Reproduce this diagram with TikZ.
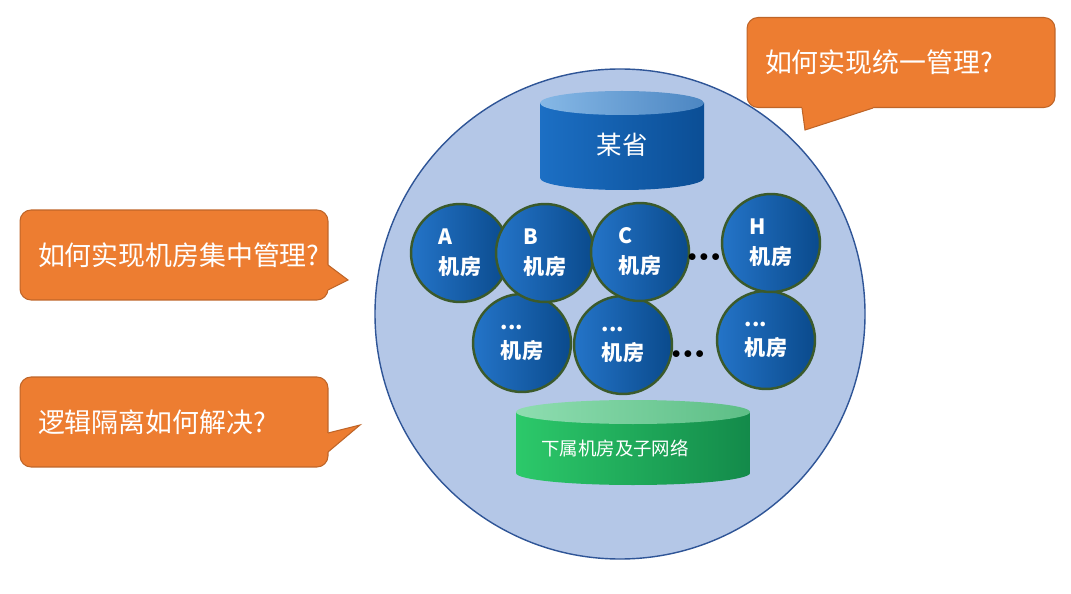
\documentclass[tikz,border=0pt]{standalone}
\usepackage{fontspec}
\newfontfamily\cjk{Noto Sans CJK SC}
\usetikzlibrary{shadings}
\definecolor{bigfill}{HTML}{B4C7E7}
\definecolor{bigline}{HTML}{2F5597}
\definecolor{roomL}{HTML}{2474C8}
\definecolor{roomR}{HTML}{0A4A8C}
\definecolor{roomline}{HTML}{3B5A2B}
\definecolor{provL}{HTML}{1C6FC4}
\definecolor{provR}{HTML}{0B4E95}
\definecolor{provtopL}{HTML}{86B8E6}
\definecolor{provtopR}{HTML}{4C86C2}
\definecolor{subL}{HTML}{2CC96A}
\definecolor{subR}{HTML}{138A4A}
\definecolor{subtopL}{HTML}{8EDDB0}
\definecolor{subtopR}{HTML}{5DBE86}
\definecolor{askfill}{HTML}{ED7D31}
\definecolor{askline}{HTML}{BF6528}

\begin{document}
\begin{tikzpicture}[x=0.02cm,y=0.02cm,
  room/.style={circle,draw=roomline,line width=1.4pt,left color=roomL,right color=roomR,
    minimum size=1.96cm,inner sep=0pt,text=white,align=left,
    font=\cjk\bfseries\fontsize{12}{17}\selectfont},
  askbox/.style={rectangle,rounded corners=0.22cm,fill=askfill,draw=askline,line width=0.6pt,
    minimum height=1.8cm,inner xsep=0.36cm,text width=5.44cm,align=left,text=white,
    font=\cjk\fontsize{15.3}{18}\selectfont},
  tail/.style={draw=askline,line width=0.6pt},
  dotrow/.style={inner sep=0pt,font=\fontsize{10}{10}\selectfont}]
\useasboundingbox (0,0) rectangle (1071,-594);
\fill[white] (0,0) rectangle (1071,-594);

% the big circle
\draw[bigline,fill=bigfill,line width=0.8pt] (620,-314) circle (245);

% province store
\shade[left color=provL,right color=provR] (540,-103) -- (540,-178) arc (180:360:82 and 12) -- (704,-103) -- cycle;
\shade[left color=provtopL,right color=provtopR] (622,-103) ellipse (82 and 12);
\node[text=white,font=\cjk\fontsize{14.5}{17}\selectfont] (prov) at (622,-145) {某省};

% machine rooms, second row first
\node[room] (r1) at (522,-343) {...\\机房};
\node[room] (r2) at (623,-345) {...\\机房};
\node[room] (r3) at (766,-340) {...\\机房};
\node[room] (ra) at (460,-253) {A\\机房};
\node[room] (rb) at (545,-253) {B\\机房};
\node[room] (rc) at (640,-252) {C\\机房};
\node[room] (rh) at (771,-243) {H\\机房};
\node[dotrow] (d1) at (704,-258) {${\bullet}\,{\bullet}\,{\bullet}$};
\node[dotrow] (d2) at (688,-355) {${\bullet}\,{\bullet}\,{\bullet}$};

% sub rooms and networks
\shade[left color=subL,right color=subR] (516,-412) -- (516,-473) arc (180:360:117 and 12) -- (750,-412) -- cycle;
\shade[left color=subtopL,right color=subtopR] (633,-412) ellipse (117 and 12);
\node[anchor=west,text=white,font=\cjk\fontsize{10.5}{12}\selectfont] (sub) at (535,-448) {下属机房及子网络};

% questions
\node[askbox] (q1) at (901,-62.5) {如何实现统一管理?};
\fill[askfill] (802,-104) -- (802,-108) -- (805,-130) -- (873,-108) -- (873,-104) -- cycle;
\draw[tail] (802,-108) -- (805,-130) -- (873,-108);

\node[askbox] (q2) at (174,-255) {如何实现机房集中管理?};
\fill[askfill] (324,-265) -- (328,-265) -- (348,-280) -- (328,-290) -- (324,-290) -- cycle;
\draw[tail] (328,-265) -- (348,-280) -- (328,-290);

\node[askbox] (q3) at (174,-422) {逻辑隔离如何解决?};
\fill[askfill] (324,-433) -- (328,-433) -- (360,-425) -- (328,-452) -- (324,-452) -- cycle;
\draw[tail] (328,-433) -- (360,-425) -- (328,-452);
\end{tikzpicture}
\end{document}
